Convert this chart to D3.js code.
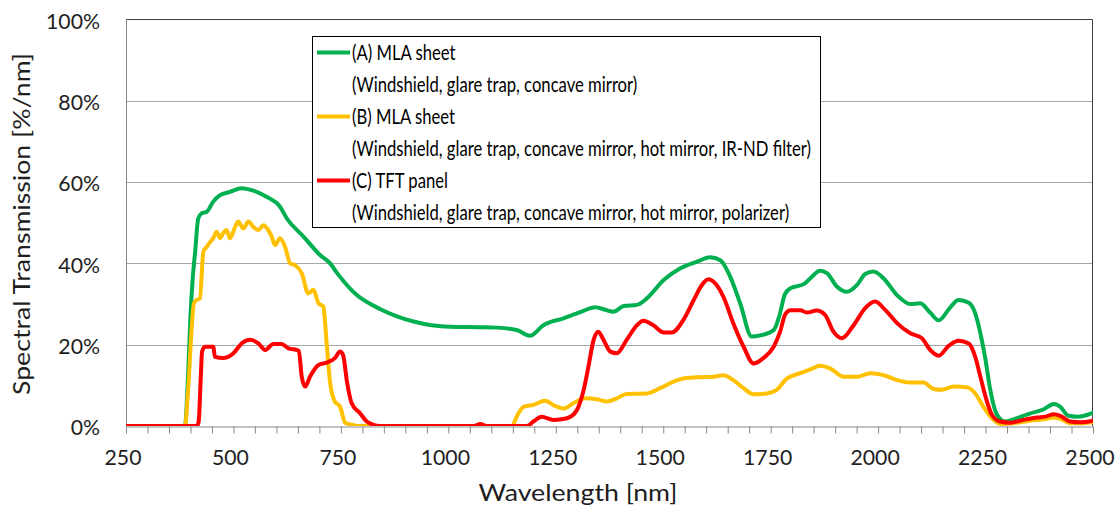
<!DOCTYPE html>
<html>
<head>
<meta charset="utf-8">
<script src="https://cdn.jsdelivr.net/npm/d3@7"></script>
<style>
  html, body { margin: 0; padding: 0; background: #fff; }
  svg { display: block; }
  text { font-family: Lato, "Open Sans", sans-serif; fill: #1e1e1e; }
</style>
</head>
<body>
<svg id="chart" width="1118" height="510"></svg>
<script>
// Spectral transmission (%) versus wavelength (nm) for three optical paths.
const nmA = [250, 380, 387, 395, 400, 405, 411, 418, 426, 438, 453, 469, 492, 519, 546, 577, 608, 624, 663, 702, 725, 740, 787, 841, 919, 1004, 1074, 1113, 1159, 1190, 1221, 1268, 1307, 1342, 1365, 1384, 1408, 1439, 1462, 1501, 1540, 1578, 1609, 1633, 1656, 1679, 1706, 1726, 1757, 1770, 1783, 1796, 1827, 1842, 1865, 1881, 1904, 1927, 1951, 1970, 1989, 2013, 2044, 2075, 2098, 2121, 2141, 2168, 2187, 2211, 2226, 2238, 2250, 2261, 2277, 2296, 2323, 2354, 2385, 2409, 2424, 2443, 2463, 2486, 2500];
const pctA = [0, 0, 0, 14, 27, 36, 43, 51, 52.3, 52.7, 55.2, 56.8, 57.6, 58.5, 57.9, 56.4, 54, 51.1, 46.6, 42, 40, 37.8, 32.2, 28.8, 25.7, 24.4, 24.3, 24.2, 23.6, 22.2, 24.8, 26.5, 28, 29.2, 28.6, 28.1, 29.5, 29.8, 31.4, 35.9, 38.8, 40.4, 41.5, 40.8, 36.7, 30.2, 22, 22.3, 23.6, 27, 32.4, 33.9, 34.9, 36.3, 38.2, 37.6, 34.3, 33, 34.7, 37.4, 38, 36.3, 32.2, 30, 30.2, 27.9, 26, 29.2, 31, 30.3, 27.7, 22.8, 16.2, 8.9, 2.7, 1.1, 1.9, 3.1, 4.1, 5.4, 4.7, 2.5, 2.3, 2.7, 3.3];

const nmB = [250, 387, 395, 403, 408, 414, 422, 430, 438, 446, 453, 461, 469, 476, 484, 492, 504, 511, 523, 535, 546, 558, 570, 581, 589, 597, 608, 620, 632, 643, 659, 674, 686, 698, 709, 717, 725, 736, 748, 760, 775, 790, 1148, 1159, 1175, 1198, 1225, 1249, 1268, 1291, 1318, 1346, 1369, 1392, 1415, 1462, 1493, 1524, 1547, 1586, 1617, 1640, 1663, 1687, 1710, 1741, 1764, 1788, 1819, 1842, 1865, 1888, 1920, 1951, 1982, 2013, 2044, 2075, 2106, 2129, 2149, 2176, 2207, 2226, 2245, 2265, 2284, 2315, 2354, 2389, 2409, 2428, 2447, 2478, 2500];
const pctB = [0, 0, 9.7, 24.4, 30.2, 31, 31.4, 42.9, 44.1, 45.3, 46.2, 47.8, 46.2, 47.4, 48.2, 46.2, 49, 50.3, 48.6, 50.3, 49, 48.2, 49.4, 48.2, 46.6, 44.5, 46.2, 44.1, 40, 39.6, 37.6, 32.6, 33.5, 30.2, 29.4, 20.3, 10.5, 6, 4.8, 0.8, 0.3, 0, 0, 2.3, 4.7, 5.2, 6.2, 4.9, 4.3, 5.6, 6.8, 6.6, 6, 6.8, 7.9, 8, 9.3, 10.9, 11.7, 12, 12.1, 12.5, 11.3, 9.3, 7.8, 8, 8.9, 11.7, 13, 13.9, 14.8, 14.2, 12.1, 12.1, 13, 12.5, 11.3, 10.7, 10.7, 9.1, 8.9, 9.7, 9.5, 8, 4.7, 1.9, 0.5, 0.7, 1.3, 1.7, 2.1, 1.6, 0.7, 0.7, 0.9];

const nmC = [250, 415, 419, 424, 427, 434, 453, 457, 476, 500, 519, 539, 558, 574, 593, 612, 628, 647, 652, 659, 667, 678, 698, 717, 736, 748, 755, 764, 775, 795, 810, 826, 840, 1060, 1074, 1090, 1183, 1198, 1217, 1245, 1276, 1299, 1315, 1326, 1338, 1349, 1361, 1377, 1392, 1415, 1439, 1454, 1477, 1501, 1520, 1547, 1571, 1590, 1605, 1621, 1640, 1663, 1687, 1710, 1733, 1757, 1772, 1784, 1796, 1819, 1834, 1857, 1877, 1896, 1916, 1943, 1970, 1993, 2017, 2044, 2075, 2102, 2121, 2141, 2164, 2187, 2211, 2226, 2238, 2250, 2265, 2284, 2307, 2338, 2369, 2389, 2409, 2424, 2447, 2470, 2500];
const pctC = [0, 0, 1, 12, 18.3, 19.5, 19.5, 17, 16.7, 17.9, 20.3, 21.2, 20.3, 18.7, 20.2, 20.2, 19.1, 18.7, 18.5, 12.1, 9.7, 12.1, 15, 15.6, 16.7, 18.3, 17.5, 11, 5.6, 3.1, 1.1, 0.3, 0, 0, 0.5, 0, 0, 1.1, 2.3, 1.5, 1.9, 3.9, 8.9, 14.6, 21.2, 23.2, 21.2, 18.3, 17.9, 21.2, 24.8, 25.9, 24.8, 23, 23, 26.1, 31, 34.7, 36.1, 35.1, 31.8, 25.3, 19.5, 15.4, 16.7, 19.5, 23.2, 27.5, 28.5, 28.5, 27.9, 28.4, 27.3, 23.2, 21.6, 24.8, 29, 30.6, 28.5, 25.3, 22.8, 21.6, 18.7, 17.3, 19.7, 21, 20.3, 17, 12.1, 7.2, 2.7, 1.1, 0.8, 1.5, 2.1, 2.3, 2.9, 2.5, 1.1, 0.9, 1.3];

const seriesNames = ["(A) MLA sheet", "(B) MLA sheet", "(C) TFT panel"];
const seriesNotes = [
  "(Windshield, glare trap, concave mirror)",
  "(Windshield, glare trap, concave mirror, hot mirror, IR-ND filter)",
  "(Windshield, glare trap, concave mirror, hot mirror, polarizer)"
];
const seriesColors = ["#00B050", "#FFC000", "#FF0000"];
const xTicks = [250, 500, 750, 1000, 1250, 1500, 1750, 2000, 2250, 2500];
const yTicks = [0, 20, 40, 60, 80, 100];
const xTitle = "Wavelength [nm]";
const yTitle = "Spectral Transmission [%/nm]";

const series = [
  { name: seriesNames[0], note: seriesNotes[0], color: seriesColors[0], nm: nmA, pct: pctA },
  { name: seriesNames[1], note: seriesNotes[1], color: seriesColors[1], nm: nmB, pct: pctB },
  { name: seriesNames[2], note: seriesNotes[2], color: seriesColors[2], nm: nmC, pct: pctC }
];

const svg = d3.select("#chart");
const plot = { left: 126, right: 1093, top: 19.5, bottom: 426 };

const x = d3.scaleLinear().domain([250, 2500]).range([plot.left, plot.right]);
const y = d3.scaleLinear().domain([0, 100]).range([plot.bottom, plot.top]);

// natural width of a string at a given size
function measure(str, size) {
  const t = svg.append("text").style("font-size", size + "px").text(str);
  const w = t.node().getComputedTextLength();
  t.remove();
  return w;
}
// draw text at a given size, squeezed horizontally by a common factor
function condensed(sel, size, factor) {
  sel.style("font-size", size + "px")
    .each(function () {
      const w = this.getComputedTextLength();
      d3.select(this).attr("textLength", w * factor).attr("lengthAdjust", "spacingAndGlyphs");
    });
  return sel;
}

// horizontal gridlines
svg.append("g")
  .selectAll("line")
  .data(yTicks.filter(d => d > 0 && d < 100))
  .join("line")
  .attr("x1", plot.left).attr("x2", plot.right)
  .attr("y1", d => Math.round(y(d)) + 0.5).attr("y2", d => Math.round(y(d)) + 0.5)
  .attr("stroke", "#A6A6A6").attr("stroke-width", 1);

// plot frame (top and right)
svg.append("path")
  .attr("d", `M${plot.left},${plot.top}H${plot.right - 0.5}V${plot.bottom}`)
  .attr("fill", "none").attr("stroke", "#404040").attr("stroke-width", 1);

// x axis with a tick every 50 nm
const xAxis = d3.axisBottom(x)
  .tickValues(d3.range(250, 2501, 50))
  .tickSize(7)
  .tickSizeOuter(0)
  .tickFormat("");
const gx = svg.append("g")
  .attr("transform", `translate(0,${Math.round(plot.bottom) + 0.5})`)
  .call(xAxis);
gx.selectAll("path, line").attr("stroke", "#898989");

// y axis line
svg.append("line")
  .attr("x1", plot.left + 0.5).attr("x2", plot.left + 0.5)
  .attr("y1", plot.top).attr("y2", plot.bottom)
  .attr("stroke", "#898989");

// tick labels
const tickSize = 22;
const tickFactor = 54 / measure("100%", tickSize);
condensed(svg.append("g")
  .selectAll("text")
  .data(yTicks)
  .join("text")
  .attr("x", 100)
  .attr("y", d => y(d) + 1.5)
  .attr("dy", "0.35em")
  .attr("text-anchor", "end")
  .text(d => d + "%"), tickSize, tickFactor);

condensed(svg.append("g")
  .selectAll("text")
  .data(xTicks)
  .join("text")
  .attr("x", d => x(d) - 3)
  .attr("y", 457.5)
  .attr("dy", "0.35em")
  .attr("text-anchor", "middle")
  .text(d => d), tickSize, tickFactor);

// axis titles
const titleSize = 23;
condensed(svg.append("text")
  .attr("x", 578).attr("y", 493).attr("dy", "0.35em")
  .attr("text-anchor", "middle")
  .text(xTitle), titleSize, 199 / measure(xTitle, titleSize));

condensed(svg.append("text")
  .attr("transform", "translate(22,224) rotate(-90)")
  .attr("dy", "0.35em")
  .attr("text-anchor", "middle")
  .text(yTitle), titleSize, 342 / measure(yTitle, titleSize));

// series lines
svg.append("clipPath").attr("id", "plotClip")
  .append("rect")
  .attr("x", plot.left).attr("y", plot.top - 4)
  .attr("width", plot.right - plot.left).attr("height", plot.bottom - plot.top + 4);

const line = d3.line()
  .x(d => x(d[0]))
  .y(d => y(d[1]))
  .curve(d3.curveMonotoneX);

svg.append("g")
  .attr("clip-path", "url(#plotClip)")
  .selectAll("path")
  .data(series)
  .join("path")
  .attr("d", s => line(d3.zip(s.nm, s.pct)))
  .attr("fill", "none")
  .attr("stroke", s => s.color)
  .attr("stroke-width", 4)
  .attr("stroke-linejoin", "round")
  .attr("stroke-linecap", "round");

// legend
const legend = svg.append("g");
legend.append("rect")
  .attr("x", 312.5).attr("y", 36.5)
  .attr("width", 508).attr("height", 191)
  .attr("fill", "#fff").attr("stroke", "#000").attr("stroke-width", 1);

const legendSize = 21;
const legendFactor = 459 / measure(seriesNotes[1], legendSize);
const rowPitch = 32;
const firstRow = 52.5;
series.forEach((s, i) => {
  const yName = firstRow + rowPitch * 2 * i;
  legend.append("line")
    .attr("x1", 317).attr("x2", 350)
    .attr("y1", yName).attr("y2", yName)
    .attr("stroke", s.color).attr("stroke-width", 4);
  const rows = legend.append("g").selectAll("text")
    .data([s.name, s.note])
    .join("text")
    .attr("x", 352)
    .attr("y", (d, j) => yName + rowPitch * j)
    .attr("dy", "0.35em")
    .style("fill", "#000")
    .text(d => d);
  condensed(rows, legendSize, legendFactor);
});
</script>
</body>
</html>
